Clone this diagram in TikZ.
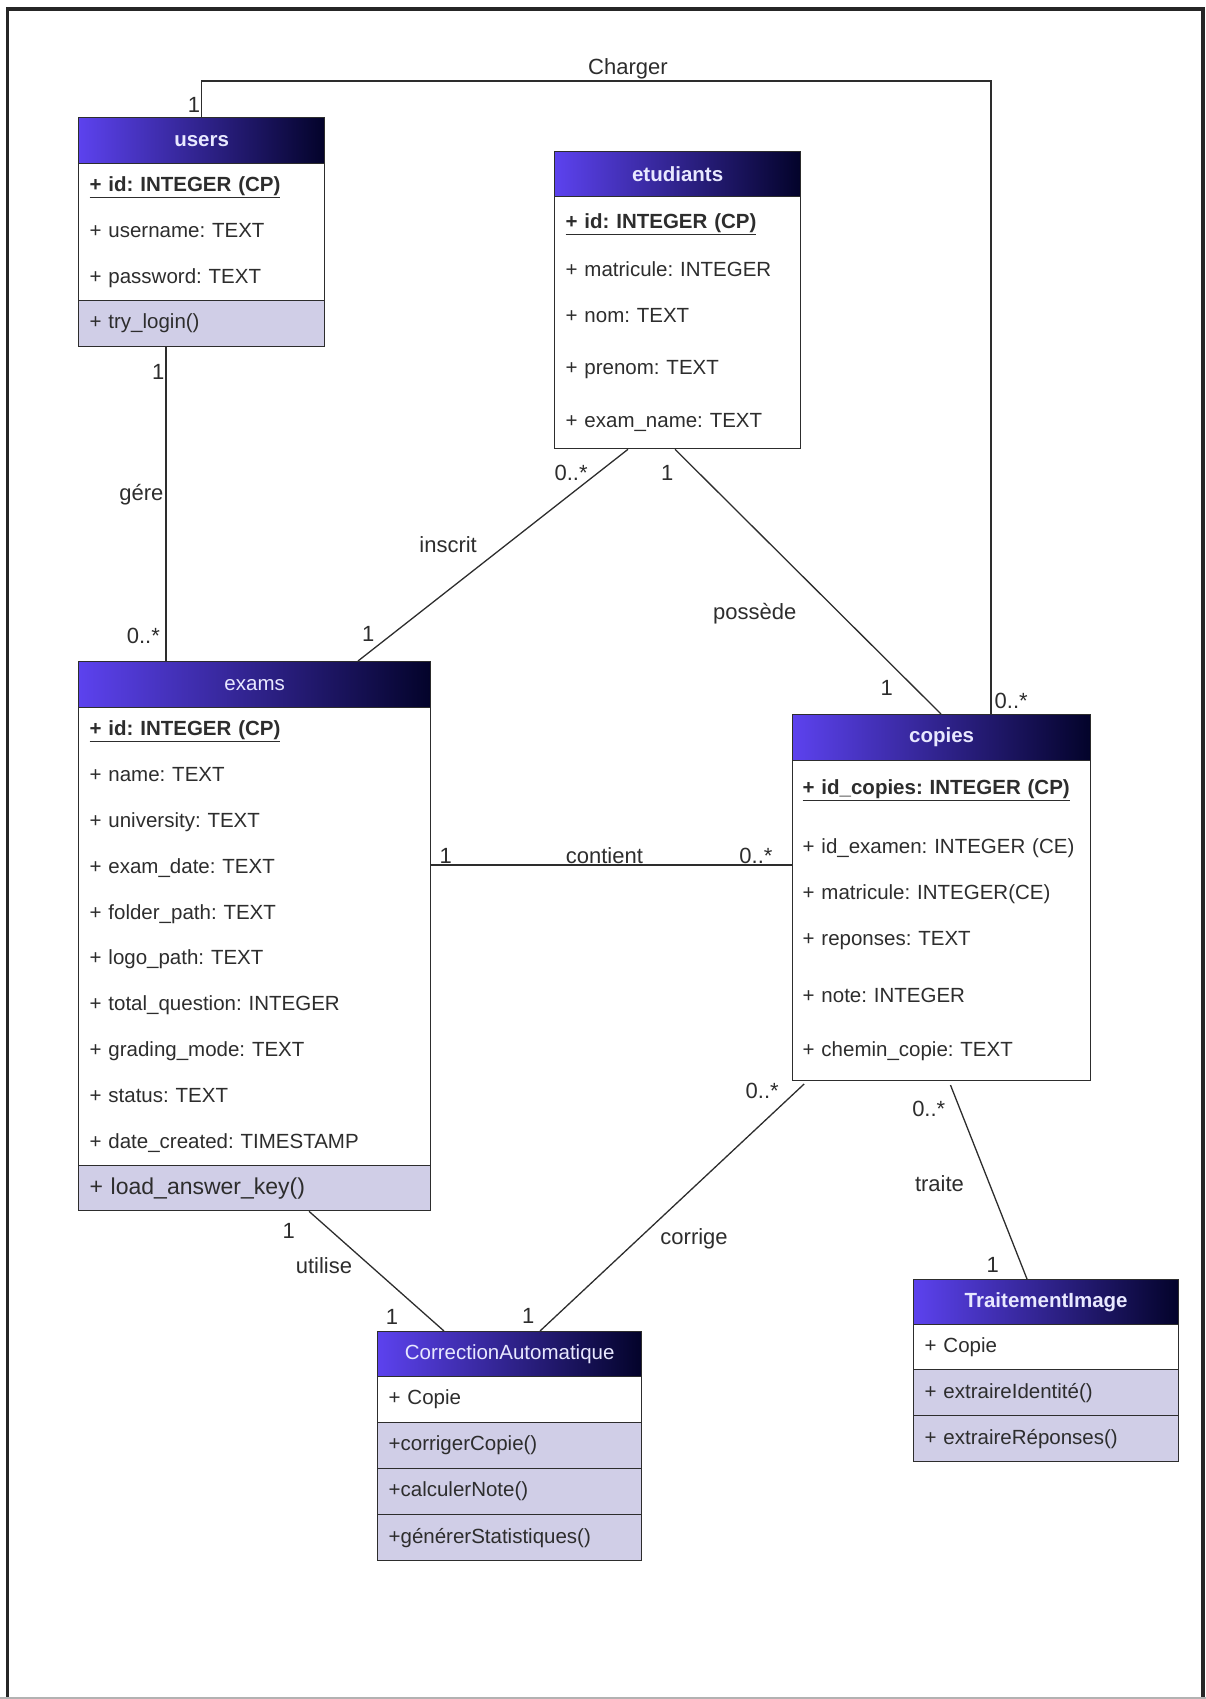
\documentclass[tikz,border=0pt]{standalone}
\usepackage{fontspec}
\setmainfont{Liberation Sans}
\usepackage{xcolor}
\usepackage{tikz}
\usetikzlibrary{calc}
\frenchspacing

\definecolor{hdleft}{RGB}{92,66,238}
\definecolor{hdright}{RGB}{3,3,42}
\definecolor{hdtext}{RGB}{232,232,255}
\definecolor{opsfill}{RGB}{208,206,231}
\definecolor{ink}{RGB}{45,45,45}

\newcommand{\hdfont}{\fontsize{20.5}{24}\selectfont}
\newcommand{\attfont}{\fontsize{20.5}{45.8}\selectfont}
\newcommand{\lblfont}{\fontsize{22}{26}\selectfont}
\newcommand{\pk}[1]{\underline{\textbf{#1}}}

\begin{document}
\begin{tikzpicture}[
  x=1pt, y=-1pt, line width=1.3pt, color=ink,
  hd/.style={draw=ink, left color=hdleft, right color=hdright, anchor=north west, inner sep=0pt, text=hdtext, font=\hdfont\bfseries},
  att/.style={draw=ink, fill=white, anchor=north west, align=left, inner xsep=11pt, inner ysep=0pt, text=ink, font=\attfont},
  ops/.style={att, fill=opsfill},
  lbl/.style={font=\lblfont, text=ink, inner sep=1pt}
]
\useasboundingbox (0,0) rectangle (1206,1699);
\draw[line width=3.5pt, black!85] (7.5,1699) -- (7.5,9) -- (1203,9) -- (1203,1699);
\draw[line width=1.5pt, black!30] (0,1698) -- (1206,1698);

\node[hd, minimum width=246pt, minimum height=46pt] (users) at (78,117) {users};
\node[att, text width=224pt, minimum height=137pt] (users-att) at (78,163)
  {\pk{+ id: INTEGER (CP)}\\+ username: TEXT\\+ password: TEXT};
\node[ops, text width=224pt, minimum height=46pt] (users-ops) at (78,300) {+ try\_login()};

\node[hd, minimum width=246pt, minimum height=45pt] (etud) at (554,151) {etudiants};
\node[att, text width=224pt, minimum height=252pt] (etud-att) at (554,196)
  {\pk{+ id: INTEGER (CP)}\\[2pt]+ matricule: INTEGER\\+ nom: TEXT\\[7pt]+ prenom: TEXT\\[7pt]+ exam\_name: TEXT};

\node[hd, font=\hdfont, minimum width=352pt, minimum height=46pt] (exams) at (78,661) {exams};
\node[att, text width=330pt, minimum height=458pt] (exams-att) at (78,707)
  {\pk{+ id: INTEGER (CP)}\\+ name: TEXT\\+ university: TEXT\\+ exam\_date: TEXT\\+ folder\_path: TEXT\\
   + logo\_path: TEXT\\+ total\_question: INTEGER\\+ grading\_mode: TEXT\\+ status: TEXT\\+ date\_created: TIMESTAMP};
\node[ops, text width=330pt, minimum height=45pt, font=\fontsize{23}{27}\selectfont] (exams-ops) at (78,1165) {+ load\_answer\_key()};

\node[hd, minimum width=298pt, minimum height=46pt] (copies) at (792,714) {copies};
\node[att, inner xsep=10pt, text width=278pt, minimum height=320pt] (copies-att) at (792,760)
  {\pk{+ id\_copies: INTEGER (CP)}\\[13pt]+ id\_examen: INTEGER (CE)\\+ matricule: INTEGER(CE)\\+ reponses: TEXT\\[11pt]
   + note: INTEGER\\[9pt]+ chemin\_copie: TEXT};

\node[hd, font=\hdfont, minimum width=264pt, minimum height=45pt] (corr) at (377,1331) {CorrectionAutomatique};
\node[att, text width=242pt, minimum height=46pt] (corr-att) at (377,1376) {+ Copie};
\node[ops, text width=242pt, minimum height=46pt] (corr-op1) at (377,1422) {+corrigerCopie()};
\node[ops, text width=242pt, minimum height=46pt] (corr-op2) at (377,1468) {+calculerNote()};
\node[ops, text width=242pt, minimum height=46pt] (corr-op3) at (377,1514) {+générerStatistiques()};

\node[hd, minimum width=265pt, minimum height=45pt] (trait) at (913,1279) {TraitementImage};
\node[att, text width=243pt, minimum height=45pt] (trait-att) at (913,1324) {+ Copie};
\node[ops, text width=243pt, minimum height=46pt] (trait-op1) at (913,1369) {+ extraireIdentité()};
\node[ops, text width=243pt, minimum height=46pt] (trait-op2) at (913,1415) {+ extraireRéponses()};

\draw (users.north) -- node[lbl, left=0pt, pos=0.33]{1} ++(0,-36)
  -| node[lbl, above, pos=0.27]{Charger} node[lbl, right=2pt, pos=0.99]{0..*} ($(copies.north west)+(199,0)$);
\draw ($(users-ops.south west)+(88,0)$) -- node[lbl, left=0pt, pos=0.08]{1} node[lbl, left=1pt, pos=0.47]{gére}
  node[lbl, left=4.5pt, pos=0.92]{0..*} ($(exams.north west)+(88,0)$);
\draw ($(etud-att.south west)+(74,0)$) -- node[lbl, left=9pt, pos=0.11]{0..*} node[lbl, left=28pt, pos=0.45]{inscrit}
  node[lbl, left=17pt, pos=0.87]{1} ($(exams.north west)+(280,0)$);
\draw ($(etud-att.south west)+(121,0)$) -- node[lbl, left=24pt, pos=0.09]{1} node[lbl, left=42pt, pos=0.62]{possède}
  node[lbl, left=20pt, pos=0.9]{1} ($(copies.north west)+(149,0)$);
\draw ($(exams-att.north east)+(0,158)$) -- node[lbl, above, pos=0.04]{1} node[lbl, above, pos=0.48]{contient}
  node[lbl, above, pos=0.9]{0..*} ($(copies-att.north west)+(0,105)$);
\draw ($(exams-ops.south west)+(231,0)$) -- node[lbl, left=34pt, pos=0.16]{1} node[lbl, left=16pt, pos=0.45]{utilise}
  node[lbl, left=28pt, pos=0.88]{1} ($(corr.north west)+(67,0)$);
\draw[shorten <=4pt] ($(copies-att.south west)+(15,0)$) -- node[lbl, left=16pt, pos=0.04]{0..*} node[lbl, right=20pt, pos=0.63]{corrige}
  node[lbl, left=20pt, pos=0.94]{1} ($(corr.north west)+(163,0)$);
\draw[shorten <=4pt] ($(copies-att.south west)+(157,0)$) -- node[lbl, left=13pt, pos=0.14]{0..*} node[lbl, left=24pt, pos=0.52]{traite}
  node[lbl, left=21pt, pos=0.93]{1} ($(trait.north west)+(114,0)$);
\end{tikzpicture}
\end{document}
